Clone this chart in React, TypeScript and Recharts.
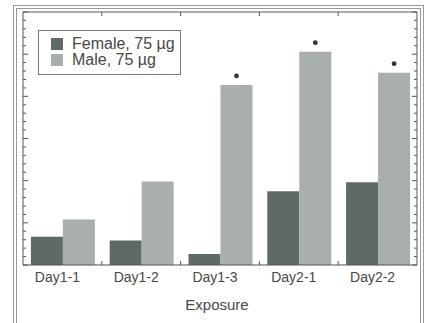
import * as React from 'react';
import { ComposedChart, Bar, Line, XAxis, YAxis, Legend, LabelList, Label } from 'recharts';

const categories = ['Day1-1', 'Day1-2', 'Day1-3', 'Day2-1', 'Day2-2'];
const female = [0.67, 0.58, 0.26, 1.75, 1.96];
const male = [1.08, 1.98, 4.27, 5.06, 4.56];
const significant = [false, false, true, true, true];

const majorTicks = [0, 1, 2, 3, 4, 5, 6];
const minorTicks = [0.2, 0.4, 0.6, 0.8, 1.2, 1.4, 1.6, 1.8, 2.2, 2.4, 2.6, 2.8, 3.2, 3.4, 3.6, 3.8, 4.2, 4.4, 4.6, 4.8, 5.2, 5.4, 5.6, 5.8];
const allTicks = [...majorTicks, ...minorTicks].sort((a, b) => a - b);

const data = categories.map((name, i) => ({
  name,
  female: female[i],
  male: male[i],
  star: significant[i] ? 1 : 0,
}));

const FONT = '"Liberation Sans", Arial, Helvetica, sans-serif';
const AXIS = '#555';
const TEXT = '#474747';
const FEMALE = '#5f6a68';
const MALE = '#a9afad';
const TICK_SIZE = 5;
const TICK_MARGIN = 2;

// half a category band, from the tick itself or from the axis width
const halfBand = (props: any) =>
  props.payload && props.payload.offset ? props.payload.offset : props.width / props.visibleTicksCount / 2;

// y-axis tick marks pointing into the plot; dir = +1 for left axis, -1 for right
const yTick = (dir: number) => (props: any) => {
  const { x, y, payload } = props;
  const len = majorTicks.includes(payload.value) ? 5 : 3;
  return <line x1={x} y1={y} x2={x + dir * len} y2={y} stroke={AXIS} strokeWidth={1} />;
};

// bottom axis: label + small upward tick at each category boundary
const bottomTick = (props: any) => {
  const { x, y, payload, index } = props;
  const half = halfBand(props);
  const axisY = y - TICK_SIZE - TICK_MARGIN;
  return (
    <g>
      {index > 0 && <line x1={x - half} y1={axisY} x2={x - half} y2={axisY - 4} stroke={AXIS} />}
      <text x={x - 5} y={y} dy="0.71em" textAnchor="middle" fontSize={14} fill={TEXT} fontFamily={FONT}>
        {payload.value}
      </text>
    </g>
  );
};

// top axis: small downward tick at each category boundary
const topTick = (props: any) => {
  const { x, y, index } = props;
  if (index === 0) return <g />;
  const half = halfBand(props);
  return <line x1={x - half} y1={y} x2={x - half} y2={y + 4} stroke={AXIS} />;
};

const LegendBox = (props: any) => {
  const payload = (props.payload || []).filter((p: any) => p.type !== 'none');
  return (
    <div
      style={{
        border: '1px solid #777',
        padding: '5px 5px 6px 12px',
        fontFamily: FONT,
        fontSize: 16,
        lineHeight: '16px',
        color: TEXT,
        background: '#fff',
        width: 'fit-content',
      }}
    >
      {payload.map((p: any) => (
        <div key={p.value} style={{ display: 'flex', alignItems: 'center' }}>
          <span style={{ width: 12, height: 12, background: p.color, marginRight: 9, display: 'inline-block' }} />
          <span>{p.value}</span>
        </div>
      ))}
    </div>
  );
};

const Star = (props: any) => {
  const { x, y, width, value } = props;
  if (!value) return null;
  return <circle cx={x + width / 2} cy={y - 9} r={2.4} fill="#333" />;
};

export default function App() {
  return (
    <div style={{ position: 'absolute', left: 0, top: 0, width: 429, height: 323, background: '#fff', overflow: 'hidden' }}>
      <div
        style={{
          position: 'absolute',
          left: 13,
          top: 5,
          width: 403,
          height: 340,
          borderLeft: '4px double #999',
          borderTop: '4px double #999',
          borderRight: '4px double #999',
        }}
      />
      <div style={{ position: 'absolute', left: 0, top: 0 }}>
        <ComposedChart
          width={429}
          height={323}
          data={data}
          margin={{ top: 12, right: 12, left: 23, bottom: 0 }}
          barCategoryGap="10%"
          barGap={0}
        >
          <XAxis
            xAxisId="cat"
            dataKey="name"
            height={58}
            stroke={AXIS}
            tickLine={false}
            tickSize={TICK_SIZE}
            tickMargin={TICK_MARGIN}
            tick={bottomTick}
            interval={0}
          >
            <Label value="Exposure" position="insideBottom" offset={13} dx={-3} style={{ fontSize: 15, fill: TEXT, fontFamily: FONT }} />
          </XAxis>
          <XAxis
            xAxisId="top"
            dataKey="name"
            orientation="top"
            height={1}
            mirror
            stroke={AXIS}
            tickLine={false}
            tickSize={0}
            tickMargin={0}
            tick={topTick}
            interval={0}
          />
          <YAxis
            yAxisId="l"
            type="number"
            domain={[0, 6]}
            ticks={allTicks}
            interval={0}
            width={1}
            mirror
            tickLine={false}
            tickSize={0}
            tickMargin={0}
            tick={yTick(1)}
            stroke={AXIS}
          />
          <YAxis
            yAxisId="r"
            type="number"
            orientation="right"
            domain={[0, 6]}
            ticks={allTicks}
            interval={0}
            width={1}
            mirror
            tickLine={false}
            tickSize={0}
            tickMargin={0}
            tick={yTick(-1)}
            stroke={AXIS}
          />
          <Legend
            content={LegendBox}
            layout="vertical"
            verticalAlign="middle"
            align="center"
            wrapperStyle={{ position: 'absolute', left: 38, top: 30, width: 'auto', height: 'auto' }}
          />
          <Bar xAxisId="cat" yAxisId="l" dataKey="female" name="Female, 75 µg" fill={FEMALE} isAnimationActive={false} />
          <Bar xAxisId="cat" yAxisId="l" dataKey="male" name="Male, 75 µg" fill={MALE} isAnimationActive={false}>
            <LabelList dataKey="star" content={Star} />
          </Bar>
          <Line xAxisId="cat" yAxisId="r" dataKey="male" stroke="none" dot={false} activeDot={false} legendType="none" isAnimationActive={false} />
          <Line xAxisId="top" yAxisId="l" dataKey="female" stroke="none" dot={false} activeDot={false} legendType="none" isAnimationActive={false} />
        </ComposedChart>
      </div>
    </div>
  );
}
